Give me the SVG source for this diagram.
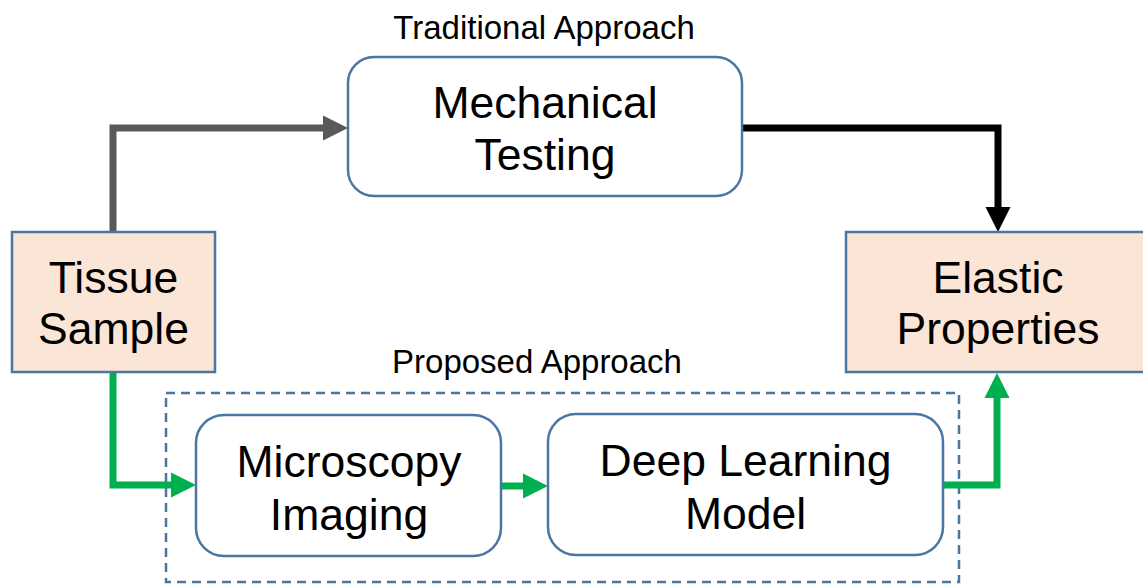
<svg xmlns="http://www.w3.org/2000/svg" width="1143" height="584" viewBox="0 0 1143 584">
<defs>
<style>
.peach{fill:#FBE5D6;stroke:#4A76A3;stroke-width:2.5}
.round{fill:#FFFFFF;stroke:#4A76A3;stroke-width:2.5}
.big{font-family:"Liberation Sans",Arial,sans-serif;font-size:44.5px;fill:#000;text-anchor:middle}
.lbl{font-family:"Liberation Sans",Arial,sans-serif;font-size:33px;fill:#000;text-anchor:middle}
.conn{fill:none;stroke-width:7;stroke-linejoin:miter}
</style>
</defs>
<rect x="0" y="0" width="1143" height="584" fill="#FFFFFF"/>
<text class="lbl" x="544" y="39">Traditional Approach</text>
<text class="lbl" x="537" y="373">Proposed Approach</text>
<rect id="proposed-group" x="166" y="393" width="793" height="189" fill="none" stroke="#4A76A3" stroke-width="2.5" stroke-dasharray="9,6"/>
<g id="connectors">
<path class="conn" d="M113,232 V128 H326" stroke="#595959"/>
<polygon points="323,115.5 348,128 323,140.5" fill="#595959"/>
<path class="conn" d="M742,128 H998 V209" stroke="#000000"/>
<polygon points="985.5,207 1010.5,207 998,232" fill="#000000"/>
<path class="conn" d="M113,372 V485 H173" stroke="#00B050"/>
<polygon points="171,472.5 196,485 171,497.5" fill="#00B050"/>
<path class="conn" d="M501,486 H526" stroke="#00B050"/>
<polygon points="523,473.5 548,486 523,498.5" fill="#00B050"/>
<path class="conn" d="M943,485 H997 V396" stroke="#00B050"/>
<polygon points="984.5,398 1009.5,398 997,373" fill="#00B050"/>
</g>
<g id="tissue-sample">
<rect class="peach" x="12" y="232" width="203" height="140"/>
<text class="big" x="113.5" y="292.5">Tissue</text>
<text class="big" x="113.5" y="343.5">Sample</text>
</g>
<g id="elastic-properties">
<rect class="peach" x="846" y="232" width="305" height="140"/>
<text class="big" x="998" y="292.5">Elastic</text>
<text class="big" x="998" y="343.5">Properties</text>
</g>
<g id="mechanical-testing">
<rect class="round" x="348" y="57" width="394" height="139" rx="26"/>
<text class="big" x="545" y="117.5">Mechanical</text>
<text class="big" x="545" y="170">Testing</text>
</g>
<g id="microscopy-imaging">
<rect class="round" x="196" y="415" width="305" height="141" rx="28"/>
<text class="big" x="349" y="477">Microscopy</text>
<text class="big" x="349" y="530">Imaging</text>
</g>
<g id="deep-learning-model">
<rect class="round" x="548" y="414" width="395" height="141" rx="28"/>
<text class="big" x="745.5" y="475.5">Deep Learning</text>
<text class="big" x="745.5" y="528.5">Model</text>
</g>
</svg>
